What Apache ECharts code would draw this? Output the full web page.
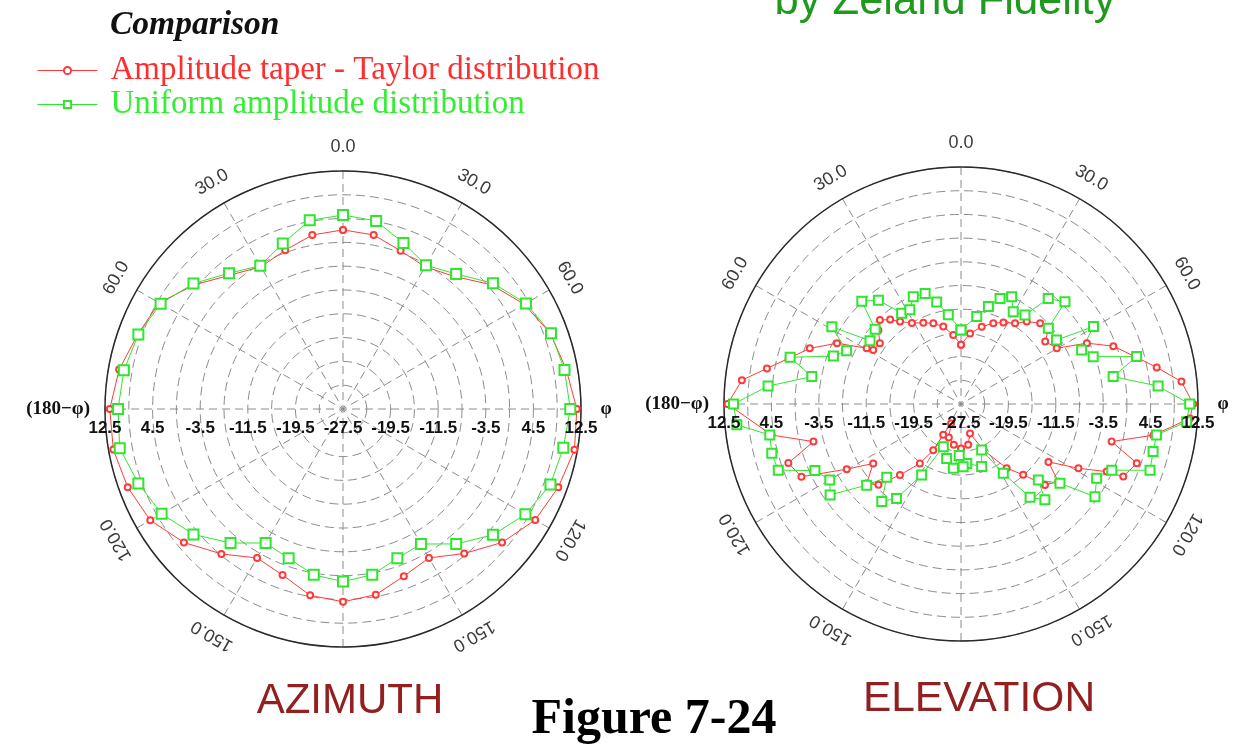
<!DOCTYPE html>
<html>
<head>
<meta charset="utf-8">
<script src="https://cdn.jsdelivr.net/npm/echarts@6/dist/echarts.min.js"></script>
<style>
  html, body { margin: 0; padding: 0; background: #ffffff; }
  #chart { width: 1245px; height: 744px; }
</style>
</head>
<body>
<div id="chart"></div>
<script>
// Radial scale of both polar plots (dB): centre is the floor, rim is the ceiling
const DB_MIN = -27.5;
const DB_MAX = 12.5;
const radialTickLabels = [12.5, 4.5, -3.5, -11.5, -19.5, -27.5];
const angleTickLabels = [0, 30, 60, 120, 150];

const seriesNames = ['Amplitude taper - Taylor distribution', 'Uniform amplitude distribution'];

// Azimuth cut, sampled every 10 degrees: right half is φ, left half is (180-φ)
const azAngles = [0, 10, 20, 30, 40, 50, 60, 70, 80, 90, 100, 110, 120, 130, 140, 150, 160, 170, 180];
const azTaylorRight   = [2.6, 2.2, 0.8, 0.1, 1.6, 5.0, 7.7, 9.6, 10.6, 11.8, 12.0, 11.0, 9.8, 7.4, 4.2, 1.4, 2.4, 4.2, 4.9];
const azTaylorLeft    = [2.6, 2.2, 0.9, 0.1, 1.9, 5.0, 8.2, 9.2, 10.7, 11.7, 11.7, 11.0, 9.9, 7.4, 4.3, 1.4, 2.2, 4.3, 4.9];
const azUniformRight  = [5.1, 4.6, 2.2, 0.4, 2.1, 5.4, 8.0, 9.7, 10.3, 10.7, 10.1, 9.6, 7.9, 5.4, 2.1, -1.3, -0.8, 0.8, 1.5];
const azUniformLeft   = [5.1, 4.7, 2.1, 0.3, 2.3, 5.3, 7.9, 9.1, 9.9, 10.3, 10.6, 9.1, 7.7, 5.3, 1.9, -1.5, -0.8, 0.8, 1.5];

// Elevation cut, points in drawing order: angle clockwise from the top, level in dB
const elTaylorAngles = [0, 7.3, 15, 21.8, 27.5, 33.8, 38.6, 44.4, 49.7, 53.4,
  59.8, 64.2, 69.2, 75.2, 79.4, 84.2, 90, 93.6, 99.2, 104,
  108.6, 114.1, 114.9, 118.7, 123.5, 128.6, 134, 138.7, 144.6, 154.1,
  163, 170, 180, 190, 200, 207, 210, 211, 214.7, 220.7,
  225.6, 229.9, 235.9, 240.3, 245.5, 251.1, 255.7, 260.7, 270, 276.2,
  280.4, 284.8, 290.2, 296.1, 300.6, 301.6, 306.8, 311.8, 316, 320,
  323.5, 328.8, 335.1, 341.1, 347.1, 353.6, 360];
const elTaylorDb = [-17.5, -15.5, -14.0, -12.8, -12.0, -11.1, -9.7, -8.4, -8.2, -9.8,
  -8.8, -3.9, 0.0, 3.2, 6.1, 9.9, 11.7, 11.2, 5.4, -1.3,
  3.8, 2.5, -0.4, -4.9, -9.8, -6.5, -7.8, -11.6, -14.2, -18.9,
  -22.3, -20.5, -20.0, -20.5, -21.5, -23.8, -21.5, -18.4, -15.3, -11.7,
  -8.0, -6.7, -9.6, -5.3, 2.1, 3.3, -1.8, 4.9, 11.9, 9.7,
  5.8, 2.6, -0.3, -4.2, -9.0, -10.1, -10.4, -8.8, -7.8, -8.9,
  -10.2, -11.5, -12.4, -13.1, -14.1, -15.8, -17.5];

const elUniformAngles = [0, 10.2, 15.7, 20.3, 25.3, 29.5, 35.7, 39.6, 45.5, 49.1,
  56.2, 59.7, 65.9, 70.3, 74.9, 79.8, 84.8, 90, 94.5, 99,
  103.9, 109.3, 113.7, 118.7, 124.7, 128.7, 134.5, 138.8, 143.5, 148.6,
  155.8, 161.7, 174.5, 178, 182, 186.8, 194.8, 202.5, 209, 214.3,
  219.1, 225.4, 229.3, 235.2, 239.9, 245.5, 250.1, 255.4, 260.8, 264.7,
  270, 275.3, 280.4, 285.3, 290.6, 295, 300.9, 304.8, 311, 316,
  321.5, 326.8, 331.5, 336, 342, 346.6, 351.9, 360];
const elUniformDb = [-15.0, -12.5, -10.4, -8.5, -7.5, -9.6, -9.0, -4.4, -2.9, -8.0,
  -8.1, -1.6, -5.2, -3.8, 3.2, -1.4, 5.9, 11.1, 10.7, 5.9,
  5.9, 6.3, 0.3, -1.4, 0.0, -6.1, -9.2, -6.0, -7.9, -13.8,
  -19.0, -16.4, -17.4, -16.9, -18.8, -16.6, -18.0, -19.7, -13.8, -8.2,
  -6.3, -9.9, -6.5, -0.6, -1.9, -0.4, 5.3, 5.5, 5.2, 10.5,
  10.9, 5.2, -1.9, 2.4, -4.5, -6.2, -2.1, -8.8, -8.3, -3.4,
  -5.1, -9.2, -9.4, -7.7, -7.9, -9.8, -12.3, -15.0];

const RED = '#ff3a3a';
const GREEN = '#2fe62f';
const GRID = '#8c8c8c';
const RSPAN = DB_MAX - DB_MIN;

// radius on the axis is the level above the floor
const toR = db => db - DB_MIN;

function azimuthTrace(right, left) {
  const pts = azAngles.map((a, i) => [toR(right[i]), a]);
  for (let i = azAngles.length - 2; i >= 0; i--) {
    pts.push([toR(left[i]), 360 - azAngles[i]]);
  }
  return pts;
}
function orderedTrace(angles, dbs) {
  return angles.map((a, i) => [toR(dbs[i]), a]);
}

const chart = echarts.init(document.getElementById('chart'), null, { renderer: 'canvas' });

const polarDefs = [
  { center: [343, 409], radius: 238 },
  { center: [961, 404], radius: 237 }
];

function angleAxisFor(i) {
  return {
    polarIndex: i, type: 'value', min: 0, max: 360, interval: 30,
    startAngle: 90, clockwise: true,
    axisLine: { show: true, lineStyle: { color: '#2a2a2a', width: 1.5 } },
    axisTick: { show: false }, axisLabel: { show: false },
    splitLine: { show: true, lineStyle: { color: GRID, width: 1, type: [8, 5] } }
  };
}
function radiusAxisFor(i) {
  return {
    polarIndex: i, type: 'value', min: 0, max: RSPAN, interval: 4,
    axisLine: { show: false }, axisTick: { show: false }, axisLabel: { show: false },
    splitLine: { show: true, lineStyle: { color: GRID, width: 1, type: [9, 5] } }
  };
}

function lineSeries(name, polarIndex, data, color, symbol, size) {
  return {
    type: 'line', name, coordinateSystem: 'polar', polarIndex, data,
    symbol, symbolSize: size, showSymbol: true,
    lineStyle: { color, width: 1 },
    itemStyle: { color, borderWidth: 1 },
    animation: false, z: 3
  };
}

chart.setOption({
  animation: false,
  backgroundColor: '#ffffff',
  polar: polarDefs,
  angleAxis: [angleAxisFor(0), angleAxisFor(1)],
  radiusAxis: [radiusAxisFor(0), radiusAxisFor(1)],
  legend: {
    orient: 'vertical', left: 32, top: 49,
    itemWidth: 60, itemHeight: 9, itemGap: 1,
    selectedMode: false,
    lineStyle: { width: 1 },
    textStyle: { fontFamily: 'Liberation Serif', fontSize: 33, padding: [0, 0, 0, 8] },
    data: [
      { name: seriesNames[0], textStyle: { color: '#ff2e2e' } },
      { name: seriesNames[1], textStyle: { color: '#33ee33' } }
    ]
  },
  series: [
    lineSeries(seriesNames[0], 0, azimuthTrace(azTaylorRight, azTaylorLeft), RED, 'emptyCircle', 6),
    lineSeries(seriesNames[1], 0, azimuthTrace(azUniformRight, azUniformLeft), GREEN, 'emptyRect', 10),
    lineSeries(seriesNames[0], 1, orderedTrace(elTaylorAngles, elTaylorDb), RED, 'emptyCircle', 6),
    lineSeries(seriesNames[1], 1, orderedTrace(elUniformAngles, elUniformDb), GREEN, 'emptyRect', 9)
  ]
});

// Tick labels and annotations, placed through the polar coordinate systems
function pix(pi, r, a) {
  const p = chart.convertToPixel({ polarIndex: pi }, [r, a]);
  if (p) return p;
  const d = polarDefs[pi];
  const rad = r / RSPAN * d.radius;
  const t = (a - 90) * Math.PI / 180;
  return [d.center[0] + rad * Math.cos(t), d.center[1] + rad * Math.sin(t)];
}

const graphics = [];
const tickFont = 'bold 17px "Liberation Sans", Arial, sans-serif';
const angleFont = '18px "Liberation Sans", Arial, sans-serif';

for (let pi = 0; pi < 2; pi++) {
  const c = pix(pi, 0, 0);
  // radial level labels along the horizontal diameter
  radialTickLabels.forEach(v => {
    const sides = v === DB_MIN ? [90] : [270, 90];
    sides.forEach(a => {
      const p = pix(pi, toR(v), a);
      graphics.push({
        type: 'text', x: p[0], y: c[1] + 19, z: 10,
        style: { text: v.toFixed(1), font: tickFont, fill: '#111', align: 'center', verticalAlign: 'middle' }
      });
    });
  });
  // angle labels around the rim, written along the circle
  angleTickLabels.forEach(a => {
    const dirs = a === 0 ? [0] : [a, 360 - a];
    dirs.forEach(d => {
      const p = pix(pi, RSPAN * 1.1, d);
      graphics.push({
        type: 'text', x: p[0], y: p[1], rotation: -d * Math.PI / 180, z: 10,
        style: { text: a.toFixed(1), font: angleFont, fill: '#3a3a3a', align: 'center', verticalAlign: 'middle' }
      });
    });
  });
  // half-plane captions
  const lp = pix(pi, RSPAN, 270);
  const rp = pix(pi, RSPAN, 90);
  graphics.push({
    type: 'text', x: lp[0] - 15, y: lp[1], z: 10,
    style: { text: '(180\u2212\u03C6)', font: 'bold 19px "Liberation Serif", serif', fill: '#111', align: 'right', verticalAlign: 'middle' }
  });
  graphics.push({
    type: 'text', x: rp[0] + 25, y: rp[1], z: 10,
    style: { text: '\u03C6', font: 'bold 18px "Liberation Serif", serif', fill: '#111', align: 'center', verticalAlign: 'middle' }
  });
}

graphics.push(
  { type: 'text', x: 110, y: 25, z: 10,
    style: { text: 'Comparison', font: 'italic bold 33.5px "Liberation Serif", serif', fill: '#111', align: 'left', verticalAlign: 'middle' } },
  { type: 'text', x: 945, y: 2, z: 10,
    style: { text: 'by Zeland Fidelity', font: '43.5px "Liberation Sans", Arial, sans-serif', fill: '#1f9a1f', align: 'center', verticalAlign: 'middle' } },
  { type: 'text', x: 350, y: 701, z: 10,
    style: { text: 'AZIMUTH', font: '42px "Liberation Sans", Arial, sans-serif', fill: '#932020', align: 'center', verticalAlign: 'middle' } },
  { type: 'text', x: 979, y: 699, z: 10,
    style: { text: 'ELEVATION', font: '42.5px "Liberation Sans", Arial, sans-serif', fill: '#932020', align: 'center', verticalAlign: 'middle' } },
  { type: 'text', x: 654, y: 720, z: 10,
    style: { text: 'Figure 7-24', font: 'bold 50px "Liberation Serif", serif', fill: '#000', align: 'center', verticalAlign: 'middle' } }
);

chart.setOption({ graphic: graphics });
</script>
</body>
</html>
